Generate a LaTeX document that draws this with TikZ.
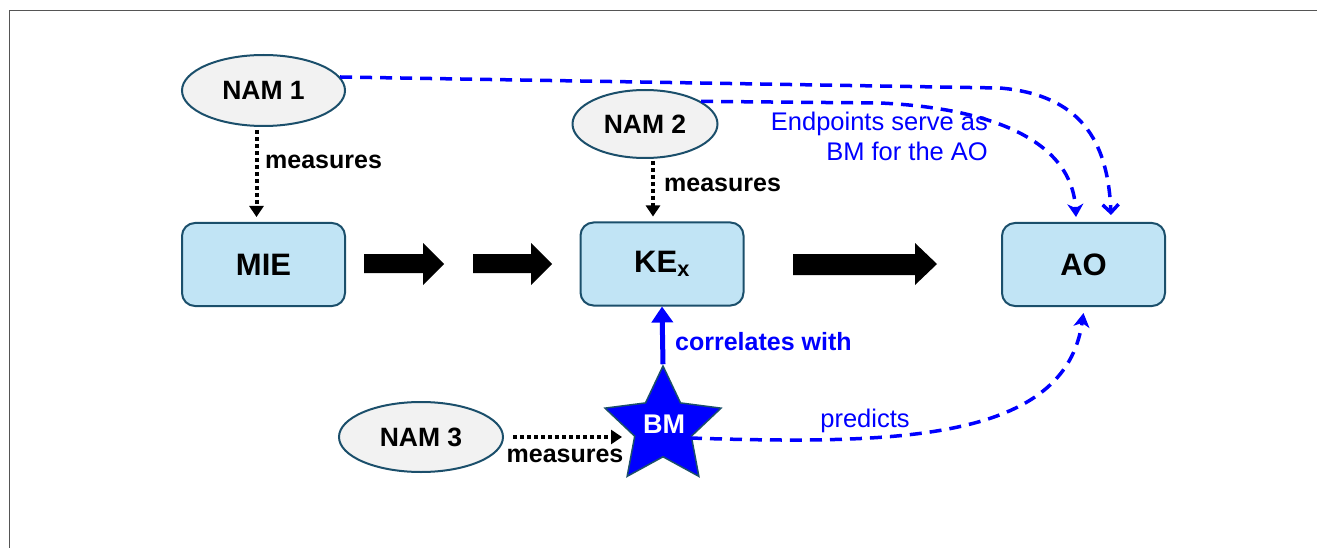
\documentclass[tikz,border=0pt]{standalone}
\usepackage{fontspec}
\setmainfont{Liberation Sans}
\usetikzlibrary{shapes.geometric,arrows.meta,calc}
\definecolor{boxfill}{HTML}{C1E4F5}
\definecolor{boxline}{HTML}{1B4F6B}
\definecolor{namfill}{HTML}{F2F2F2}
\definecolor{myblue}{HTML}{0000FF}
\definecolor{bordergray}{HTML}{555555}
\tikzset{
  nam/.style={ellipse, draw=boxline, fill=namfill, line width=2pt, inner sep=0pt,
    font=\fontsize{26.5}{30}\selectfont\bfseries},
  kebox/.style={draw=boxline, fill=boxfill, line width=2pt, rounded corners=13pt,
    minimum width=163pt, minimum height=83pt, inner sep=0pt,
    font=\fontsize{31}{34}\selectfont\bfseries},
  dotarrow/.style={line width=4pt, dash pattern=on 4pt off 3pt,
    -{Triangle[length=11pt,width=14pt]}},
  bluedash/.style={myblue, line width=3.5pt, dash pattern=on 12pt off 8pt},
  measlabel/.style={font=\fontsize{25}{29}\selectfont\bfseries, inner sep=0pt},
  bluelabel/.style={myblue, font=\fontsize{25.5}{30}\selectfont, inner sep=0pt},
  blockarrow/.style={fill=black},
}
\begin{document}
\begin{tikzpicture}[x=1pt,y=-1pt]
\useasboundingbox (0,0) rectangle (1317,548);
\draw[bordergray, line width=1.6pt] (9.5,548) -- (9.5,10.5) -- (1317,10.5);

% nodes
\node[nam, minimum width=163pt, minimum height=71pt] (nam1) at (263.5,90.5) {NAM 1};
\node[nam, minimum width=145pt, minimum height=68pt] (nam2) at (645,124) {NAM 2};
\node[nam, minimum width=164pt, minimum height=70pt] (nam3) at (421,437) {NAM 3};
\node[kebox] (mie) at (263.5,264.5) {MIE};
\node[kebox] (kex) at (662,264) {KE\textsubscript{x}};
\node[kebox] (ao) at (1083.5,264.5) {AO};
\node[star, star points=5, star point ratio=2.05, minimum size=122pt, inner sep=0pt,
  fill=myblue, draw=boxline, line width=1.5pt] (bm) at (663,427) {};
\node[white, font=\fontsize{27}{30}\selectfont\bfseries, inner sep=0pt] (bmtext) at (664,424) {BM};

% block arrows
\fill[blockarrow] (364,254) -- (423,254) -- (423,243) -- (444,264) -- (423,285) -- (423,273) -- (364,273) -- cycle;
\fill[blockarrow] (473,254) -- (531,254) -- (531,243) -- (552,264) -- (531,285) -- (531,273) -- (473,273) -- cycle;
\fill[blockarrow] (793,254) -- (915,254) -- (915,243) -- (937,264) -- (915,285) -- (915,275) -- (793,275) -- cycle;

% measures arrows
\draw[dotarrow, shorten <=3pt, shorten >=5pt] ($(nam1.south)+(-7,0)$) -- ($(nam1.south |- mie.north)+(-7,0)$);
\node[measlabel, anchor=west] (m1) at (265,162) {measures};
\draw[dotarrow, shorten <=2pt, shorten >=5pt] ($(nam2.south)+(8,0)$) -- ($(nam2.south |- kex.north)+(8,0)$);
\node[measlabel, anchor=west] (m2) at (664,185) {measures};
\draw[dotarrow, shorten <=9pt, shorten >=41pt] (nam3.east) -- (nam3.east -| bm.center);
\node[measlabel] (m3) at (565,456) {measures};

% correlates
\draw[myblue, line width=5pt, -{Triangle[length=16pt,width=21pt]}] (bm.north) -- (kex.south);
\node[measlabel, myblue, anchor=west] (corr) at (675,342) {correlates with};

% predicts
\draw[bluedash, -{Stealth[length=14pt,width=16pt,inset=4pt]}] ($(bm.center)+(27,11)$) .. controls (900,445) and (1065,440) .. ($(ao.south)+(0,6)$);
\node[bluelabel] (pred) at (865,421) {predicts};

% endpoints
\draw[bluedash, -{Straight Barb[length=8pt,width=16pt]}] (nam1.10) -- (1000,88) .. controls (1080,95) and (1108,140) .. ($(ao.north)+(27.5,-7)$);
\draw[bluedash, -{Stealth[length=13pt,width=16pt,inset=4pt]}] (nam2.22) -- (880,103) .. controls (990,108) and (1072,140) .. ($(ao.north)+(-7.5,-5)$);
\node[bluelabel, align=right, anchor=north east] (endp) at (988,112) {Endpoints serve as\\BM for the AO};
\end{tikzpicture}
\end{document}
